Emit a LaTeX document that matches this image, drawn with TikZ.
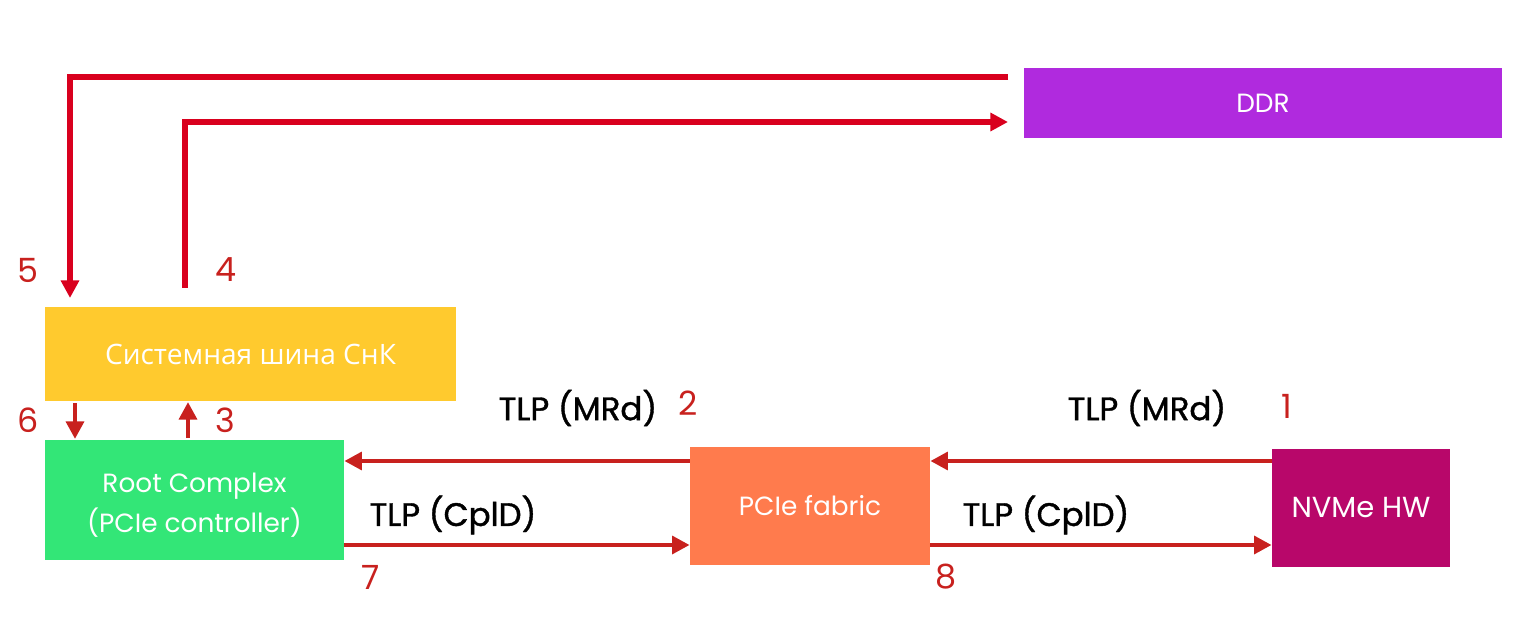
\documentclass[tikz,border=0pt]{standalone}
\usepackage{fontspec}
\setmainfont{Poppins}
\newfontfamily\cyrfont{Open Sans}
\newfontfamily\tlpfont{Poppins}[FakeBold=1.2]
\usetikzlibrary{arrows.meta}
\definecolor{ddrc}{HTML}{B02ADE}
\definecolor{busc}{HTML}{FFCA2E}
\definecolor{rcc}{HTML}{33E677}
\definecolor{fabc}{HTML}{FF7B4D}
\definecolor{nvmec}{HTML}{B8076A}
\definecolor{topred}{HTML}{D9001E}
\definecolor{lowred}{HTML}{C8211E}
\tikzset{
  blk/.style={fill=#1, draw=none, text=white, inner sep=0pt, align=center, font=\fontsize{15}{22.5}\selectfont},
  toparr/.style={draw=topred, line width=3.1pt, -{Triangle[length=10pt,width=10pt]}},
  lowarr/.style={draw=lowred, line width=2.7pt, -{Triangle[length=10pt,width=10pt]}},
  num/.style={text=lowred, font=\fontsize{19}{22}\selectfont, inner sep=0pt},
  tlp/.style={text=black, font=\tlpfont\fontsize{18.5}{22}\selectfont, inner sep=0pt},
}
\begin{document}
\begin{tikzpicture}[x=0.02cm,y=-0.02cm]
\useasboundingbox (0,0) rectangle (1529,618);
% boxes
\node[blk=ddrc, minimum width=478*0.02cm, minimum height=70*0.02cm] (ddr) at (1263,103) {DDR};
\node[blk=busc, minimum width=411*0.02cm, minimum height=94*0.02cm, font=\cyrfont\fontsize{16}{19}\selectfont] (bus) at (250.5,354) {Системная шина СнК};
\node[blk=rcc, minimum width=299*0.02cm, minimum height=120*0.02cm] (rc) at (194.5,500) {};
\node[text=white, align=center, inner sep=0pt, font=\fontsize{15}{22.5}\selectfont] (rct) at (194.5,505) {Root Complex\\(PCIe controller)};
\node[blk=fabc, minimum width=240*0.02cm, minimum height=118*0.02cm] (fab) at (810,506) {PCIe fabric};
\node[blk=nvmec, minimum width=178*0.02cm, minimum height=118*0.02cm, font=\fontsize{16.5}{20}\selectfont] (nvme) at (1361,508) {NVMe HW};
% coordinates
\coordinate (c5s) at (1008,77);
\coordinate (c5e) at (70,298);
\coordinate (c4s) at (185,288);
\coordinate (c4e) at (1008,122);
% top arrows
\draw[toparr] (c5s) -- (70,77) -- (c5e);
\draw[toparr] (c4s) -- (185,122) -- (c4e);
% bus <-> RC
\draw[lowarr] (75,403) -- (75,439);
\draw[lowarr] (188,438) -- (188,402);
% MRd
\draw[lowarr] (fab.west |- 0,461) -- (rc.east |- 0,461);
\draw[lowarr] (nvme.west |- 0,461) -- (fab.east |- 0,461);
% CplD
\draw[lowarr] (rc.east |- 0,545) -- (fab.west |- 0,545);
\draw[lowarr] (fab.east |- 0,545) -- (nvme.west |- 0,545);
% numbers
\node[num] (n5) at (28,270) {5};
\node[num] (n4) at (226,270) {4};
\node[num] (n6) at (28,420) {6};
\node[num] (n3) at (225,420) {3};
\node[num] (n2) at (688,403) {2};
\node[num] (n1) at (1287,406) {1};
\node[num] (n7) at (371,577) {7};
\node[num] (n8) at (946,577) {8};
% labels
\node[tlp] (l1) at (578,408) {TLP (MRd)};
\node[tlp] (l2) at (1147,408) {TLP (MRd)};
\node[tlp] (l3) at (453,515) {TLP (CplD)};
\node[tlp] (l4) at (1046,515) {TLP (CplD)};
\end{tikzpicture}
\end{document}
